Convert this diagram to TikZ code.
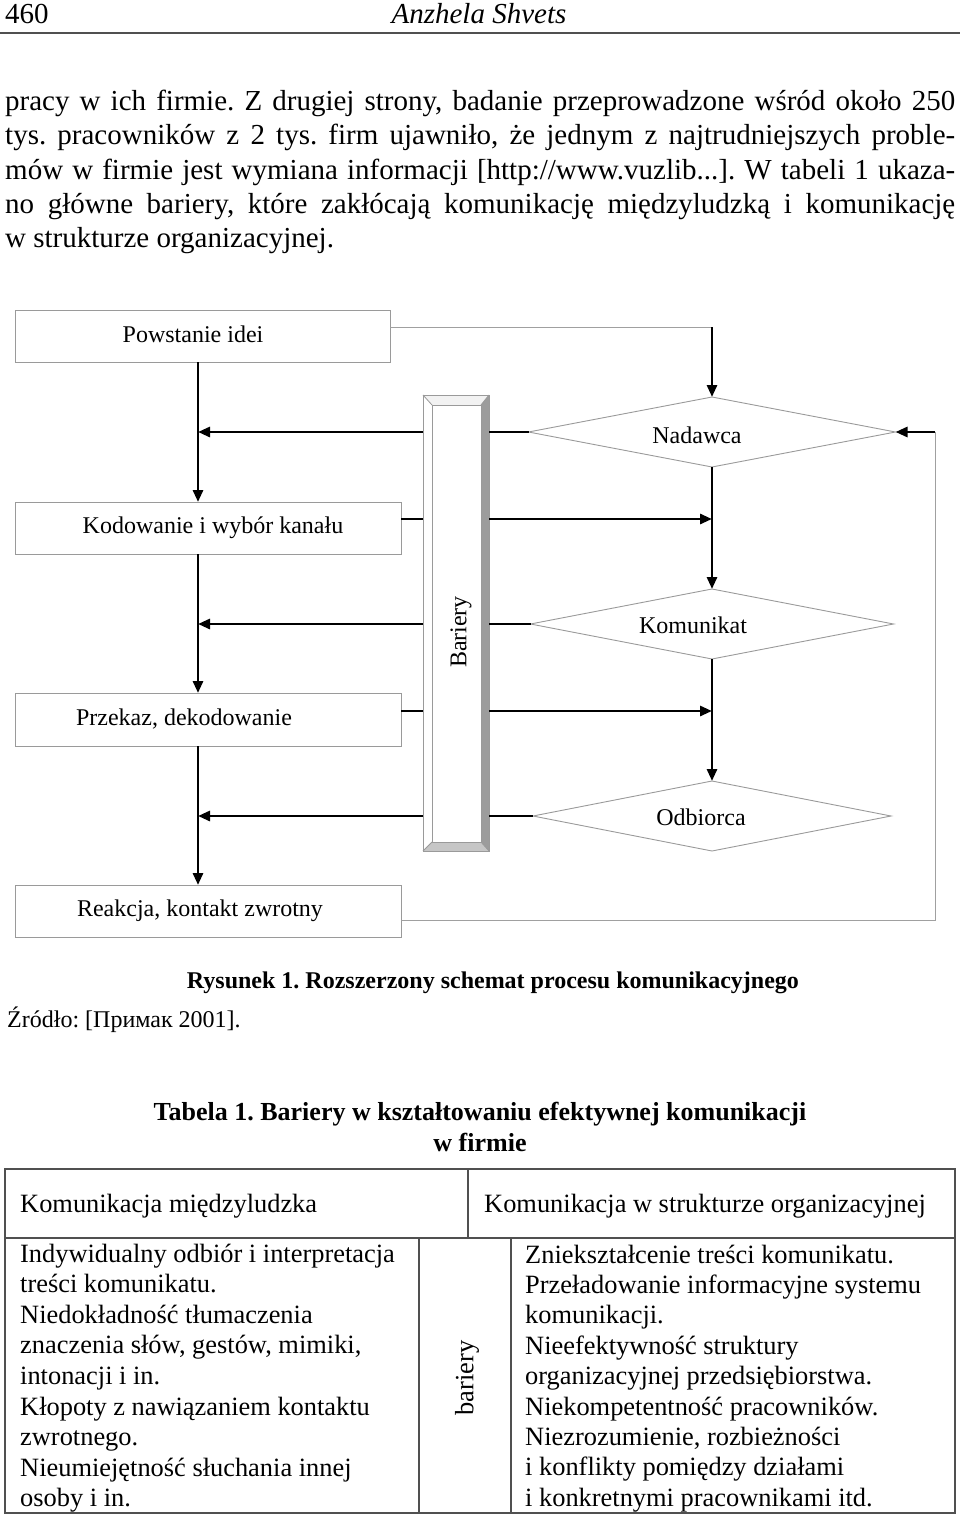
\documentclass[tikz,border=0pt]{standalone}
\usepackage{fontspec}
\setmainfont{Liberation Serif}
\usetikzlibrary{arrows.meta,shapes.geometric}
\definecolor{boxgray}{HTML}{9A9A9A}
\definecolor{linegray}{HTML}{A0A0A0}
\definecolor{tabgray}{HTML}{505050}
\definecolor{bevtop}{HTML}{F2F2F2}
\definecolor{bevright}{HTML}{9C9C9C}
\definecolor{bevbot}{HTML}{C6C6C6}
\frenchspacing
\begin{document}
\begin{tikzpicture}[x=1pt,y=-1pt,
  box/.style={draw=boxgray, line width=1pt, inner sep=0pt, outer sep=0pt},
  dia/.style={diamond, draw=boxgray, line width=0.9pt, inner sep=0pt, outer sep=0pt},
  lbl/.style={inner sep=0pt, anchor=base, font=\fontsize{24}{28}\selectfont},
  arr/.style={line width=2.8pt, -{Triangle[length=12pt,width=10pt]}},
  thk/.style={line width=2.8pt},
  thn/.style={draw=linegray, line width=1pt},
  para/.style={inner sep=0pt, anchor=base west, font=\fontsize{29}{34}\selectfont},
  cell/.style={inner sep=0pt, anchor=base west, font=\fontsize{26.4}{31}\selectfont},
  tabline/.style={draw=tabgray, line width=1.6pt}
]
\useasboundingbox (0,0) rectangle (960,1517);

% header
\node[para] (pg) at (5,24) {460};
\node[inner sep=0pt, anchor=base, font=\fontsize{29}{34}\selectfont\itshape] (au) at (479,24) {Anzhela Shvets};
\coordinate (rl) at (0,33);
\coordinate (rr) at (960,33);
\draw[draw=tabgray, line width=1.8pt] (rl) -- (rr);

% paragraph
\node[para] (p1) at (5,111) {\makebox[950pt][s]{pracy w ich firmie. Z drugiej strony, badanie przeprowadzone wśród około 250}};
\node[para] (p2) at (5,145) {\makebox[950pt][s]{tys. pracowników z 2 tys. firm ujawniło, że jednym z najtrudniejszych proble-}};
\node[para] (p3) at (5,179) {\makebox[950pt][s]{mów w firmie jest wymiana informacji [http://www.vuzlib...]. W tabeli 1 ukaza-}};
\node[para] (p4) at (5,213) {\makebox[950pt][s]{no główne bariery, które zakłócają komunikację międzyludzką i komunikację}};
\node[para] (p5) at (5,247) {w strukturze organizacyjnej.};

% boxes
\node[box, minimum width=375pt, minimum height=52pt] (pow) at (202.5,336) {};
\node[box, minimum width=386pt, minimum height=52pt] (kod) at (208,528) {};
\node[box, minimum width=386pt, minimum height=53pt] (prz) at (208,719.5) {};
\node[box, minimum width=386pt, minimum height=52pt] (rea) at (208,911) {};
\node[lbl] (powt) at (193,342) {Powstanie idei};
\node[lbl] (kodt) at (213,533) {Kodowanie i wybór kanału};
\node[lbl] (przt) at (184,725) {Przekaz, dekodowanie};
\node[lbl] (reat) at (200,916) {Reakcja, kontakt zwrotny};

% diamonds
\node[dia, minimum width=367pt, minimum height=70pt] (nad) at (712,432) {};
\node[dia, minimum width=363pt, minimum height=70pt] (kom) at (712,624) {};
\node[dia, minimum width=358pt, minimum height=70pt] (odb) at (712,816) {};
\node[lbl] (nadt) at (697,443) {Nadawca};
\node[lbl] (komt) at (693,633) {Komunikat};
\node[lbl] (odbt) at (701,825) {Odbiorca};

% barrier column
\node[inner sep=0pt, outer sep=0pt, minimum width=66pt, minimum height=456pt] (bar) at (456,623) {};
\coordinate (i1) at (432,405);
\coordinate (i2) at (481,405);
\coordinate (i3) at (481,842);
\coordinate (i4) at (432,842);
\fill[white] (bar.north west) rectangle (bar.south east);
\fill[bevtop] (bar.north west) -- (bar.north east) -- (i2) -- (i1) -- cycle;
\fill[bevright] (bar.north east) -- (bar.south east) -- (i3) -- (i2) -- cycle;
\fill[bevbot] (bar.south east) -- (bar.south west) -- (i4) -- (i3) -- cycle;
\draw[boxgray, line width=0.8pt] (bar.north west) rectangle (bar.south east);
\draw[boxgray, line width=0.8pt] (i1) rectangle (i3);
\draw[boxgray, line width=0.8pt] (bar.north west) -- (i1) (bar.north east) -- (i2) (bar.south east) -- (i3) (bar.south west) -- (i4);
\node[inner sep=0pt, rotate=90, font=\fontsize{24}{28}\selectfont] (bart) at (461,632) {Bariery};

% helper coordinates
\coordinate (L) at (198,0);
\coordinate (R) at (712,0);
\coordinate (FR) at (935,0);
\coordinate (yA) at (0,327);
\coordinate (yK) at (0,519);
\coordinate (yP) at (0,711);
\coordinate (yR) at (0,920);

% connectors
\draw[thn] (pow.east |- yA) -- (R |- yA);
\draw[arr] (R |- yA) -- (nad.north);
\draw[arr] (pow.south -| L) -- (kod.north -| L);
\draw[arr] (bar.west |- nad) -- (L |- nad);
\draw[thk] (bar.east |- nad) -- (nad.west);
\draw[thk] (kod.east |- yK) -- (bar.west |- yK);
\draw[arr] (bar.east |- yK) -- (R |- yK);
\draw[arr] (nad.south) -- (kom.north);
\draw[thk] (bar.east |- kom) -- (kom.west);
\draw[arr] (kod.south -| L) -- (prz.north -| L);
\draw[arr] (bar.west |- kom) -- (L |- kom);
\draw[thk] (prz.east |- yP) -- (bar.west |- yP);
\draw[arr] (bar.east |- yP) -- (R |- yP);
\draw[arr] (kom.south) -- (odb.north);
\draw[thk] (bar.east |- odb) -- (odb.west);
\draw[arr] (prz.south -| L) -- (rea.north -| L);
\draw[arr] (bar.west |- odb) -- (L |- odb);
\draw[thn] (rea.east |- yR) -- (FR |- yR) -- (FR |- nad);
\draw[arr] (FR |- nad) -- (nad.east);

% captions
\node[inner sep=0pt, anchor=base, font=\fontsize{24}{28}\selectfont\bfseries] (cap1) at (493,988) {Rysunek 1. Rozszerzony schemat procesu komunikacyjnego};
\node[inner sep=0pt, anchor=base west, font=\fontsize{24}{28}\selectfont] (src) at (7,1027) {Źródło: [Примак 2001].};
\node[inner sep=0pt, anchor=base, font=\fontsize{26}{30}\selectfont\bfseries] (cap2) at (480,1120) {Tabela 1. Bariery w kształtowaniu efektywnej komunikacji};
\node[inner sep=0pt, anchor=base, font=\fontsize{26}{30}\selectfont\bfseries] (cap3) at (480,1151) {w firmie};

% table
\coordinate (t1) at (5,1169);
\coordinate (t2) at (955,1513);
\coordinate (hb) at (0,1238);
\coordinate (v1) at (468,0);
\coordinate (v2) at (419,0);
\coordinate (v3) at (511,0);
\draw[tabline] (t1) rectangle (t2);
\draw[tabline] (t1 |- hb) -- (t2 |- hb);
\draw[tabline] (v1 |- t1) -- (v1 |- hb);
\draw[tabline] (v2 |- hb) -- (v2 |- t2);
\draw[tabline] (v3 |- hb) -- (v3 |- t2);
\node[cell] (h1) at (20,1212) {Komunikacja międzyludzka};
\node[cell, anchor=base] (h2) at (705,1212) {Komunikacja w strukturze organizacyjnej};
\node[inner sep=0pt, rotate=90, font=\fontsize{26.4}{31}\selectfont] (bt) at (467,1378) {bariery};
\foreach \t [count=\i] in {{Indywidualny odbiór i interpretacja},{treści komunikatu.},{Niedokładność tłumaczenia},{znaczenia słów, gestów, mimiki,},{intonacji i in.},{Kłopoty z nawiązaniem kontaktu},{zwrotnego.},{Nieumiejętność słuchania innej},{osoby i in.}}
  \node[cell] (L\i) at (20,{1262+(\i-1)*30.6}) {\t};
\foreach \t [count=\i] in {{Zniekształcenie treści komunikatu.},{Przeładowanie informacyjne systemu},{komunikacji.},{Nieefektywność struktury},{organizacyjnej przedsiębiorstwa.},{Niekompetentność pracowników.},{Niezrozumienie, rozbieżności},{i konflikty pomiędzy działami},{i konkretnymi pracownikami itd.}}
  \node[cell] (R\i) at (525,{1263+(\i-1)*30.4}) {\t};
\end{tikzpicture}
\end{document}
